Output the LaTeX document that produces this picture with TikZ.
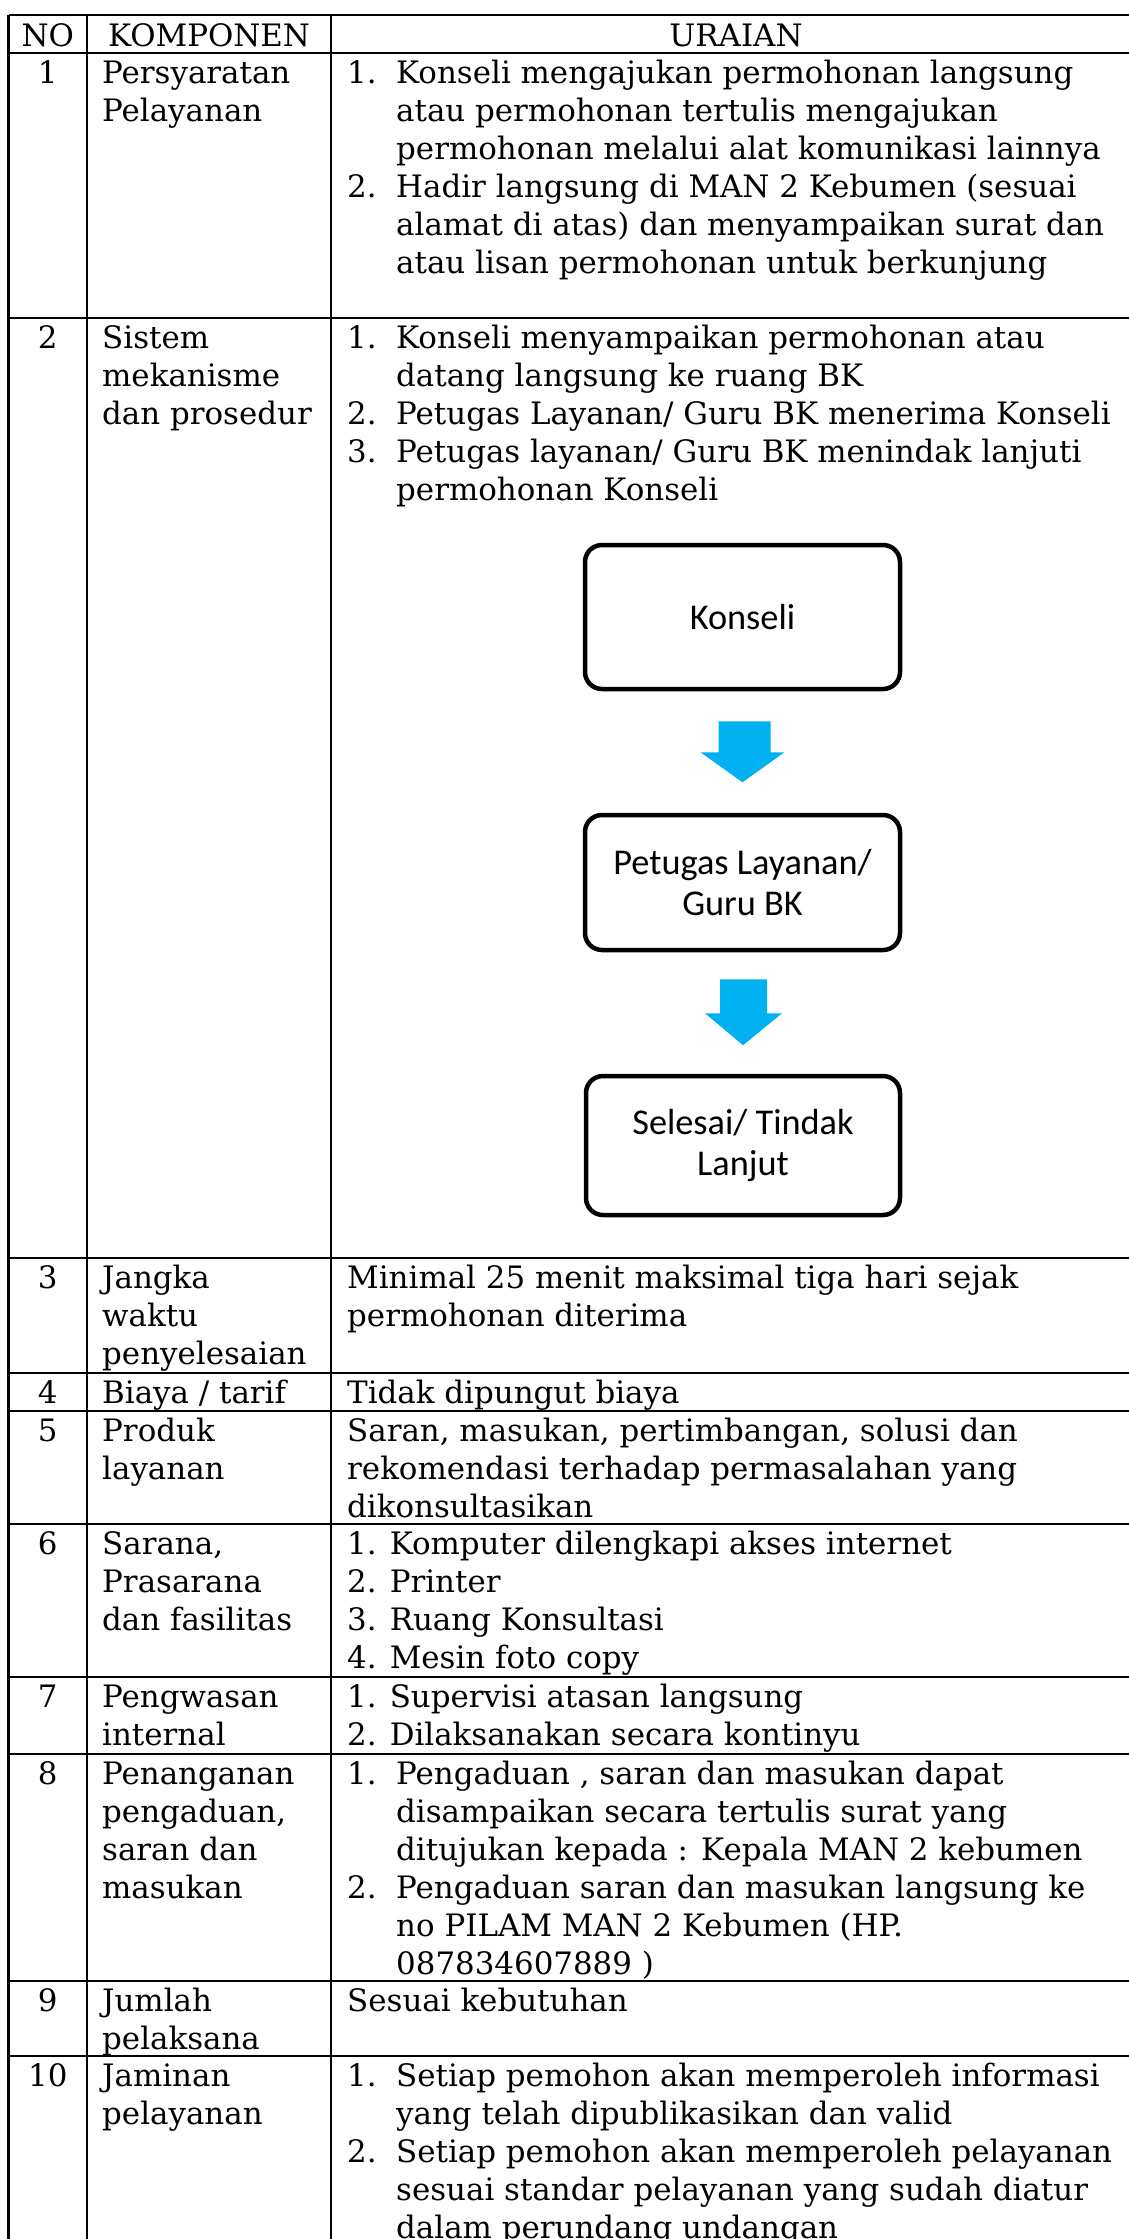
\documentclass[tikz,border=0pt]{standalone}
\usepackage{fontspec}
\usetikzlibrary{calc}
\newfontfamily\flowfont{Carlito}
\newfontfamily\serifbk{DejaVu Serif}
\newcommand\bk{\serifbk\fontsize{30.9}{38}\selectfont}
\newcommand\fl{\flowfont\fontsize{36.3}{41}\selectfont}
\definecolor{arrowblue}{RGB}{0,176,240}
% baseline of line #2 in a row whose top rule is at #1
\newcommand\B[2]{#1+30.5+38*#2}
\begin{document}
\begin{tikzpicture}[x=1pt,y=-1pt,
  rule/.style={line width=2.6pt,black},
  tx/.style={anchor=base west,inner sep=0pt,font=\bk},
  tc/.style={anchor=base,inner sep=0pt,font=\bk},
  flowbox/.style={draw,line width=4.5pt,rounded corners=17pt,font=\fl,align=center,inner sep=0pt},
  blockarrow/.style={fill=arrowblue,draw=none}]
\clip (0,0) rectangle (1129,2239);
\fill[white] (0,0) rectangle (1129,2239);

% column positions
\def\xa{47.8}\def\xb{102}\def\xc{347}\def\xd{396}

% ---- rules ----
\foreach \y in {15,53,318,1258,1373,1411,1524,1677,1754,1981,2056}
  \draw[rule] (8.6,\y) -- (1140,\y);
\foreach \x in {8.6,87,331}
  \draw[rule] (\x,15) -- (\x,2245);

% ---- header ----
\node[tc] (hno) at (\xa,46.5) {NO};
\node[tc] (hkomp) at (209,46.5) {KOMPONEN};
\node[tc] (hur) at (736,46.5) {URAIAN};

% ---- row 1 ----
\node[tc] (n1) at (\xa,\B{53}{0}) {1};
\node[tx] (k1a) at (\xb,\B{53}{0}) {Persyaratan};
\node[tx] (k1b) at (\xb,\B{53}{1}) {Pelayanan};
\node[tx] (u1n1) at (\xc,\B{53}{0}) {1.};
\node[tx] (u1a) at (\xd,\B{53}{0}) {Konseli mengajukan permohonan langsung};
\node[tx] (u1b) at (\xd,\B{53}{1}) {atau permohonan tertulis mengajukan};
\node[tx] (u1c) at (\xd,\B{53}{2}) {permohonan melalui alat komunikasi lainnya};
\node[tx] (u1n2) at (\xc,\B{53}{3}) {2.};
\node[tx] (u1d) at (\xd,\B{53}{3}) {Hadir langsung di MAN 2 Kebumen (sesuai};
\node[tx] (u1e) at (\xd,\B{53}{4}) {alamat di atas) dan menyampaikan surat dan};
\node[tx] (u1f) at (\xd,\B{53}{5}) {atau lisan permohonan untuk berkunjung};

% ---- row 2 ----
\node[tc] (n2) at (\xa,\B{318}{0}) {2};
\node[tx] (k2a) at (\xb,\B{318}{0}) {Sistem};
\node[tx] (k2b) at (\xb,\B{318}{1}) {mekanisme};
\node[tx] (k2c) at (\xb,\B{318}{2}) {dan prosedur};
\node[tx] (u2n1) at (\xc,\B{318}{0}) {1.};
\node[tx] (u2a) at (\xd,\B{318}{0}) {Konseli menyampaikan permohonan atau};
\node[tx] (u2b) at (\xd,\B{318}{1}) {datang langsung ke ruang BK};
\node[tx] (u2n2) at (\xc,\B{318}{2}) {2.};
\node[tx] (u2c) at (\xd,\B{318}{2}) {Petugas Layanan/ Guru BK menerima Konseli};
\node[tx] (u2n3) at (\xc,\B{318}{3}) {3.};
\node[tx] (u2d) at (\xd,\B{318}{3}) {Petugas layanan/ Guru BK menindak lanjuti};
\node[tx] (u2e) at (\xd,\B{318}{4}) {permohonan Konseli};

% flow chart
\node[flowbox,minimum width=315pt,minimum height=144pt] (konseli) at (742.5,617) {Konseli};
\node[flowbox,minimum width=315pt,minimum height=135pt] (petugas) at (742.5,882.5) {Petugas Layanan/\\Guru BK};
\node[flowbox,minimum width=314pt,minimum height=139pt] (selesai) at (743,1145.5) {Selesai/ Tindak\\Lanjut};
\fill[blockarrow] ($(konseli.south)+(-24,30)$) -- ($(konseli.south)+(28,30)$)
  -- ($(konseli.south)+(28,61)$) -- ($(konseli.south)+(42,61)$)
  -- ($(konseli.south)+(0,91)$) -- ($(konseli.south)+(-42,61)$)
  -- ($(konseli.south)+(-24,61)$) -- cycle;
\fill[blockarrow] ($(petugas.south)+(-22.5,27)$) -- ($(petugas.south)+(24.5,27)$)
  -- ($(petugas.south)+(24.5,61)$) -- ($(petugas.south)+(39.5,61)$)
  -- ($(petugas.south)+(0.5,93)$) -- ($(petugas.south)+(-37.5,61)$)
  -- ($(petugas.south)+(-22.5,61)$) -- cycle;

% ---- row 3 ----
\node[tc] (n3) at (\xa,\B{1258}{0}) {3};
\node[tx] (k3a) at (\xb,\B{1258}{0}) {Jangka};
\node[tx] (k3b) at (\xb,\B{1258}{1}) {waktu};
\node[tx] (k3c) at (\xb,\B{1258}{2}) {penyelesaian};
\node[tx] (u3a) at (\xc,\B{1258}{0}) {Minimal 25 menit maksimal tiga hari sejak};
\node[tx] (u3b) at (\xc,\B{1258}{1}) {permohonan diterima};

% ---- row 4 ----
\node[tc] (n4) at (\xa,\B{1373}{0}) {4};
\node[tx] (k4a) at (\xb,\B{1373}{0}) {Biaya / tarif};
\node[tx] (u4a) at (\xc,\B{1373}{0}) {Tidak dipungut biaya};

% ---- row 5 ----
\node[tc] (n5) at (\xa,\B{1411}{0}) {5};
\node[tx] (k5a) at (\xb,\B{1411}{0}) {Produk};
\node[tx] (k5b) at (\xb,\B{1411}{1}) {layanan};
\node[tx] (u5a) at (\xc,\B{1411}{0}) {Saran, masukan, pertimbangan, solusi dan};
\node[tx] (u5b) at (\xc,\B{1411}{1}) {rekomendasi terhadap permasalahan yang};
\node[tx] (u5c) at (\xc,\B{1411}{2}) {dikonsultasikan};

% ---- row 6 ----
\node[tc] (n6) at (\xa,\B{1524}{0}) {6};
\node[tx] (k6a) at (\xb,\B{1524}{0}) {Sarana,};
\node[tx] (k6b) at (\xb,\B{1524}{1}) {Prasarana};
\node[tx] (k6c) at (\xb,\B{1524}{2}) {dan fasilitas};
\node[tx] (u6a) at (\xc,\B{1524}{0}) {1. Komputer dilengkapi akses internet};
\node[tx] (u6b) at (\xc,\B{1524}{1}) {2. Printer};
\node[tx] (u6c) at (\xc,\B{1524}{2}) {3. Ruang Konsultasi};
\node[tx] (u6d) at (\xc,\B{1524}{3}) {4. Mesin foto copy};

% ---- row 7 ----
\node[tc] (n7) at (\xa,\B{1677}{0}) {7};
\node[tx] (k7a) at (\xb,\B{1677}{0}) {Pengwasan};
\node[tx] (k7b) at (\xb,\B{1677}{1}) {internal};
\node[tx] (u7a) at (\xc,\B{1677}{0}) {1. Supervisi atasan langsung};
\node[tx] (u7b) at (\xc,\B{1677}{1}) {2. Dilaksanakan secara kontinyu};

% ---- row 8 ----
\node[tc] (n8) at (\xa,\B{1754}{0}) {8};
\node[tx] (k8a) at (\xb,\B{1754}{0}) {Penanganan};
\node[tx] (k8b) at (\xb,\B{1754}{1}) {pengaduan,};
\node[tx] (k8c) at (\xb,\B{1754}{2}) {saran dan};
\node[tx] (k8d) at (\xb,\B{1754}{3}) {masukan};
\node[tx] (u8n1) at (\xc,\B{1754}{0}) {1.};
\node[tx] (u8a) at (\xd,\B{1754}{0}) {Pengaduan , saran dan masukan dapat};
\node[tx] (u8b) at (\xd,\B{1754}{1}) {disampaikan secara tertulis surat yang};
\node[tx] (u8c) at (\xd,\B{1754}{2}) {ditujukan kepada : Kepala MAN 2 kebumen};
\node[tx] (u8n2) at (\xc,\B{1754}{3}) {2.};
\node[tx] (u8d) at (\xd,\B{1754}{3}) {Pengaduan saran dan masukan langsung ke};
\node[tx] (u8e) at (\xd,\B{1754}{4}) {no PILAM MAN 2 Kebumen (HP.};
\node[tx] (u8f) at (\xd,\B{1754}{5}) {087834607889 )};

% ---- row 9 ----
\node[tc] (n9) at (\xa,\B{1981}{0}) {9};
\node[tx] (k9a) at (\xb,\B{1981}{0}) {Jumlah};
\node[tx] (k9b) at (\xb,\B{1981}{1}) {pelaksana};
\node[tx] (u9a) at (\xc,\B{1981}{0}) {Sesuai kebutuhan};

% ---- row 10 ----
\node[tc] (n10) at (\xa,\B{2056}{0}) {10};
\node[tx] (k10a) at (\xb,\B{2056}{0}) {Jaminan};
\node[tx] (k10b) at (\xb,\B{2056}{1}) {pelayanan};
\node[tx] (u10n1) at (\xc,\B{2056}{0}) {1.};
\node[tx] (u10a) at (\xd,\B{2056}{0}) {Setiap pemohon akan memperoleh informasi};
\node[tx] (u10b) at (\xd,\B{2056}{1}) {yang telah dipublikasikan dan valid};
\node[tx] (u10n2) at (\xc,\B{2056}{2}) {2.};
\node[tx] (u10c) at (\xd,\B{2056}{2}) {Setiap pemohon akan memperoleh pelayanan};
\node[tx] (u10d) at (\xd,\B{2056}{3}) {sesuai standar pelayanan yang sudah diatur};
\node[tx] (u10e) at (\xd,\B{2056}{4}) {dalam perundang undangan};
\end{tikzpicture}
\end{document}
